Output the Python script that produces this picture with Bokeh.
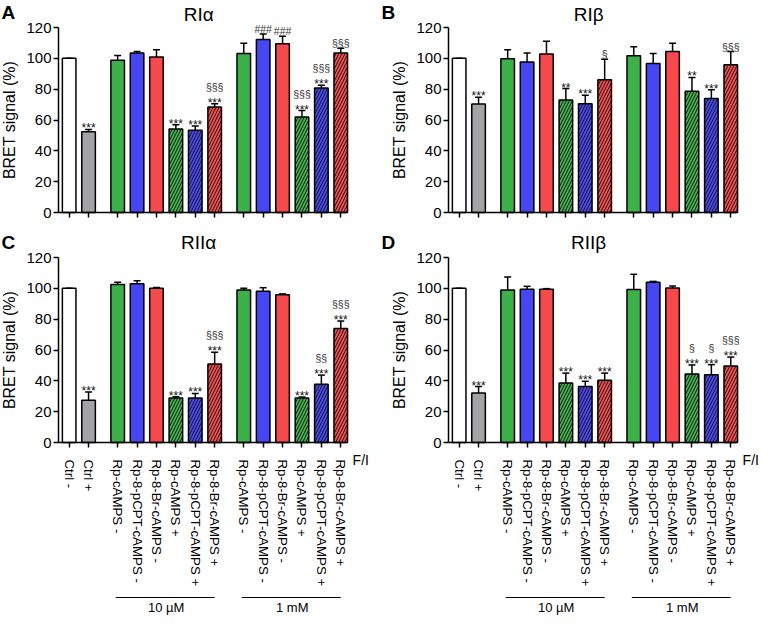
import numpy as np
from bokeh.plotting import figure
from bokeh.models import Range1d, FixedTicker, ColumnDataSource
from bokeh.core.properties import value
from bokeh.layouts import column, row
from bokeh.embed import file_html
from bokeh.resources import INLINE

# ---------------- data ----------------
ctrl_labels = ["Ctrl -", "Ctrl +"]
drug_names = ["Rp-cAMPS", "Rp-8-pCPT-cAMPS", "Rp-8-Br-cAMPS"]
fi_flags = ["-", "+"]
conc_labels = ["10 µM", "1 mM"]
panel_letters = ["A", "B", "C", "D"]
panel_titles = ["RIα", "RIβ", "RIIα", "RIIβ"]
y_ticks = [0, 20, 40, 60, 80, 100, 120]
y_label = "BRET signal (%)"
fi_label = "F/I"

ria_mean = [100, 52.4, 98.7, 103.4, 100.9, 54.2, 53.3, 68.4, 103.2, 112.2, 109.4, 62.0, 80.8, 103.4]
ria_sem = [0, 1.5, 3.2, 1.1, 4.6, 2.7, 2.8, 2.2, 6.6, 3.6, 4.9, 4.1, 1.7, 3.2]
ria_stars = ["", "***", "", "", "", "***", "***", "***", "", "", "", "***", "***", ""]
ria_marks = ["", "", "", "", "", "", "", "§§§", "", "###", "###", "§§§", "§§§", "§§§"]

rib_mean = [100, 70.4, 99.8, 97.7, 102.8, 72.9, 70.6, 86.1, 101.7, 96.6, 104.4, 78.7, 74.0, 95.9]
rib_sem = [0, 4.4, 5.7, 5.7, 8.3, 7.5, 5.5, 13.3, 5.8, 6.6, 5.4, 8.9, 5.6, 8.5]
rib_stars = ["", "***", "", "", "", "**", "***", "", "", "", "", "**", "***", ""]
rib_marks = ["", "", "", "", "", "", "", "§", "", "", "", "", "", "§§§"]

riia_mean = [100, 27.4, 102.5, 103.0, 100.0, 28.9, 28.9, 51.0, 98.9, 98.1, 95.8, 28.9, 37.8, 73.9]
riia_sem = [0, 5.3, 1.5, 1.9, 0.6, 0.8, 2.9, 7.6, 1.1, 2.3, 0.6, 0.6, 5.9, 4.9]
riia_stars = ["", "***", "", "", "", "***", "***", "***", "", "", "", "***", "***", "***"]
riia_marks = ["", "", "", "", "", "", "", "§§§", "", "", "", "", "§§", "§§§"]

riib_mean = [100, 32.1, 98.9, 99.4, 99.4, 38.6, 36.3, 40.3, 99.2, 104.0, 100.2, 44.4, 43.9, 49.7]
riib_sem = [0, 4.2, 8.5, 1.9, 0.4, 6.4, 3.4, 4.7, 9.9, 0.5, 1.3, 5.9, 6.6, 5.7]
riib_stars = ["", "***", "", "", "", "***", "***", "***", "", "", "", "***", "***", "***"]
riib_marks = ["", "", "", "", "", "", "", "", "", "", "", "§", "§", "§§§"]

# ---------------- styling / layout ----------------
FONT = "Liberation Sans"
GREEN, BLUE, RED, GRAY = "#3cb14a", "#4646f2", "#f5494b", "#a3a3a6"
LW = 1.5
GAP = 1.5            # spacing between groups (within a group = 1)
PPX = 19.4           # px per category slot
PPY = 185 / 120.0    # px per % unit

labels, positions, fills, hatches, groups = [], [], [], [], []
x = 0.0
for i, lab in enumerate(ctrl_labels):
    labels.append(lab); positions.append(x); x += 1
    fills.append("white" if i == 0 else GRAY); hatches.append(" ")
x += GAP - 1
for conc in conc_labels:
    g = []
    for flag in fi_flags:
        for d, col in zip(drug_names, [GREEN, BLUE, RED]):
            labels.append(f"{d} {flag}"); positions.append(x); g.append(x); x += 1
            fills.append(col); hatches.append("/" if flag == "+" else " ")
    groups.append(g)
    x += GAP - 1

X_START = positions[0] - 0.55   # where the y axis sits
X_END = positions[-1] + 0.3


def txt(p, xs, ys, texts, size, align="center", baseline="middle", style="normal", color="black"):
    p.text(x=xs, y=ys, text=texts, text_font=value(FONT), text_font_size=size,
           text_align=align, text_baseline=baseline, text_font_style=style, text_color=color)


def make_panel(k, means, sems, stars, marks, labeled, W, H, ox, oy, letter_top, title_up):
    means = np.array(means, float)
    sems = np.array(sems, float)
    tops = means + sems
    x0 = X_START - ox / PPX
    x1 = x0 + W / PPX
    y1 = oy / PPY
    y0 = y1 - H / PPY
    p = figure(width=W, height=H, output_backend="svg", toolbar_location=None,
               x_range=Range1d(x0, x1), y_range=Range1d(y0, y1),
               min_border=0, min_border_left=0, min_border_right=0,
               min_border_top=0, min_border_bottom=0)
    p.outline_line_color = None
    p.grid.visible = False

    src = ColumnDataSource(dict(x=positions, m=means, top=tops, fill=fills, hatch=hatches,
                                cl=[xx - 0.18 for xx in positions], cr=[xx + 0.18 for xx in positions]))
    p.vbar(x="x", top="m", bottom=0, width=0.7, source=src, fill_color="fill",
           line_color="black", line_width=LW, hatch_pattern="hatch", hatch_color="#1a1a1a",
           hatch_weight=1.0, hatch_scale=6)
    p.segment(x0="x", y0="m", x1="x", y1="top", source=src, line_color="black", line_width=LW)
    p.segment(x0="cl", y0="top", x1="cr", y1="top", source=src, line_color="black", line_width=LW)

    # significance marks
    sx = [pp for pp, s in zip(positions, stars) if s]
    sy = [t + 1 / PPY for t, s in zip(tops, stars) if s]
    st = [s for s in stars if s]
    txt(p, sx, sy, st, "12px", baseline="alphabetic", color="#111111")
    mx = [pp for pp, m in zip(positions, marks) if m]
    my = [t + (17 if s else 5) / PPY for t, m, s in zip(tops, marks, stars) if m]
    mt = [m for m in marks if m]
    txt(p, mx, my, mt, "10.5px", baseline="alphabetic", color="#333333")

    # axes (fixed inside the frame)
    yax = p.yaxis[0]
    yax.fixed_location = X_START
    yax.ticker = FixedTicker(ticks=y_ticks)
    yax.bounds = (0, 120)
    yax.axis_label = y_label
    yax.axis_label_text_font = FONT
    yax.axis_label_text_font_size = "16px"
    yax.axis_label_text_font_style = "normal"
    yax.axis_label_standoff = 5
    yax.major_label_text_font = FONT
    yax.major_label_text_font_size = "15px"
    yax.major_label_standoff = 2
    xax = p.xaxis[0]
    xax.fixed_location = 0
    xax.bounds = (X_START, X_END)
    if labeled:
        xax.ticker = FixedTicker(ticks=positions)
        xax.major_label_overrides = {float(pp): lab for pp, lab in zip(positions, labels)}
        xax.major_label_orientation = "vertical"
        xax.major_label_text_font = FONT
        xax.major_label_text_font_size = "13.3px"
        xax.major_label_standoff = 12
    else:
        xax.ticker = FixedTicker(ticks=[], minor_ticks=positions)
    for ax in (xax, yax):
        ax.axis_line_width = LW
        ax.axis_line_color = "black"
        ax.major_tick_line_width = LW
        ax.major_tick_line_color = "black"
        ax.major_tick_out = 5
        ax.major_tick_in = 0
        ax.major_label_text_color = "black"
        ax.axis_label_text_color = "black"
    yax.minor_tick_line_color = None
    if labeled:
        xax.minor_tick_line_color = None
    else:
        xax.minor_tick_line_color = "black"
        xax.minor_tick_line_width = LW
        xax.minor_tick_out = 5
        xax.minor_tick_in = 0

    # panel letter and title
    txt(p, [x0 + 1 / PPX], [120 + letter_top / PPY], [panel_letters[k]], "19px",
        align="left", baseline="top", style="bold")
    txt(p, [(X_START + X_END) / 2 - 0.2], [120 + title_up / PPY], [panel_titles[k]], "19px")

    if labeled:
        txt(p, [X_END + 6 / PPX], [-17 / PPY], [fi_label], "14px", align="left")
        yline = -155 / PPY
        gx0 = [g[0] - 0.1 for g in groups]
        gx1 = [g[-1] for g in groups]
        p.segment(x0=gx0, y0=[yline] * len(groups), x1=gx1, y1=[yline] * len(groups),
                  line_color="black", line_width=1.2)
        txt(p, [(g[0] + g[-1]) / 2 for g in groups], [yline - 2 / PPY] * len(groups),
            conc_labels, "13px", baseline="top")
    return p


W_L, W_R = 380, 380
H1, OY1 = 220, 212
H2, OY2 = 396, 222
pA = make_panel(0, ria_mean, ria_sem, ria_stars, ria_marks, False, W_L, H1, 58, OY1, 26, 13)
pB = make_panel(1, rib_mean, rib_sem, rib_stars, rib_marks, False, W_R, H1, 68, OY1, 26, 13)
pC = make_panel(2, riia_mean, riia_sem, riia_stars, riia_marks, True, W_L, H2, 58, OY2, 26, 15)
pD = make_panel(3, riib_mean, riib_sem, riib_stars, riib_marks, True, W_R, H2, 68, OY2, 26, 15)

layout = column(row(pA, pB), row(pC, pD))
open("out.html", "w").write(file_html(layout, INLINE))
